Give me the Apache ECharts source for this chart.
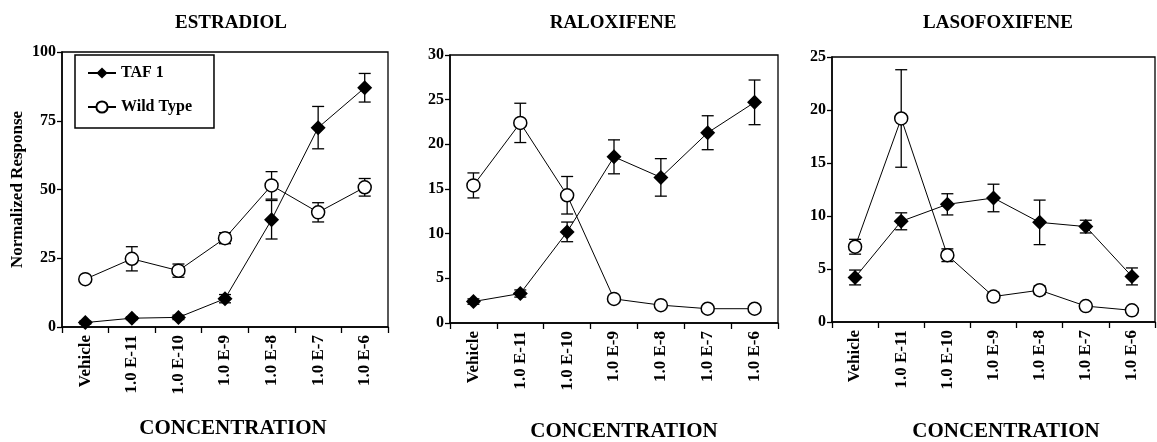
<!DOCTYPE html>
<html>
<head>
<meta charset="utf-8">
<script src="https://cdn.jsdelivr.net/npm/echarts@6/dist/echarts.min.js"></script>
<style>
  html, body { margin: 0; padding: 0; background: #fff; }
  #chart { width: 1157px; height: 442px; }
</style>
</head>
<body>
<div id="chart"></div>
<script>
var categories = ['Vehicle', '1.0 E-11', '1.0 E-10', '1.0 E-9', '1.0 E-8', '1.0 E-7', '1.0 E-6'];
var panelTitles = ['ESTRADIOL', 'RALOXIFENE', 'LASOFOXIFENE'];
var yMax = [100, 30, 25];
var yStep = [25, 5, 5];

// ESTRADIOL
var estradiolTaf = [1.6, 3.2, 3.5, 10.3, 39, 72.5, 87];
var estradiolTafErr = [0.5, 0.5, 0.8, 1.5, 7, 7.7, 5.2];
var estradiolWt = [17.4, 24.8, 20.5, 32.3, 51.5, 41.7, 50.8];
var estradiolWtErr = [1, 4.4, 2.4, 2, 5, 3.5, 3.2];

// RALOXIFENE
var raloxifeneTaf = [2.4, 3.3, 10.2, 18.6, 16.3, 21.3, 24.7];
var raloxifeneTafErr = [0.3, 0.4, 1.1, 1.9, 2.1, 1.9, 2.5];
var raloxifeneWt = [15.4, 22.4, 14.3, 2.7, 2.0, 1.6, 1.6];
var raloxifeneWtErr = [1.4, 2.2, 2.1, 0.3, 0.2, 0.2, 0.2];

// LASOFOXIFENE
var lasofoxifeneTaf = [4.2, 9.5, 11.1, 11.7, 9.4, 9.0, 4.3];
var lasofoxifeneTafErr = [0.7, 0.8, 1.0, 1.3, 2.1, 0.6, 0.8];
var lasofoxifeneWt = [7.1, 19.2, 6.3, 2.4, 3.0, 1.5, 1.1];
var lasofoxifeneWtErr = [0.7, 4.6, 0.6, 0.4, 0.4, 0.2, 0.1];

var FONT = "'Liberation Serif', 'Times New Roman', serif";

var grids = [
    {left: 62, top: 52, width: 326, height: 275},
    {left: 450, top: 55, width: 328, height: 268},
    {left: 832, top: 57, width: 323, height: 265}
];
var titleX = [226, 608, 993];
var xNameX = [228, 619, 1001];
var xNameY = [413, 416, 416];

var panels = [
    [estradiolTaf, estradiolTafErr, estradiolWt, estradiolWtErr],
    [raloxifeneTaf, raloxifeneTafErr, raloxifeneWt, raloxifeneWtErr],
    [lasofoxifeneTaf, lasofoxifeneTafErr, lasofoxifeneWt, lasofoxifeneWtErr]
];

function errRender(params, api) {
    var x = api.value(0), y = api.value(1), e = api.value(2);
    var hi = api.coord([x, y + e]);
    var lo = api.coord([x, y - e]);
    var w = 6;
    var st = {stroke: '#000', lineWidth: 1.3};
    return {
        type: 'group',
        children: [
            {type: 'line', shape: {x1: hi[0], y1: hi[1], x2: lo[0], y2: lo[1]}, style: st},
            {type: 'line', shape: {x1: hi[0] - w, y1: hi[1], x2: hi[0] + w, y2: hi[1]}, style: st},
            {type: 'line', shape: {x1: lo[0] - w, y1: lo[1], x2: lo[0] + w, y2: lo[1]}, style: st}
        ]
    };
}

function errData(vals, errs) {
    return vals.map(function (v, i) { return [i, v, errs[i]]; });
}

var titles = [], xAxes = [], yAxes = [], series = [];
for (var p = 0; p < 3; p++) {
    titles.push({
        text: panelTitles[p], left: titleX[p], top: 9, textAlign: 'center',
        textStyle: {fontFamily: FONT, fontWeight: 'bold', fontSize: 19, color: '#000'}
    });
    titles.push({
        text: 'CONCENTRATION', left: xNameX[p], top: xNameY[p], textAlign: 'center',
        textStyle: {fontFamily: FONT, fontWeight: 'bold', fontSize: 21, color: '#000'}
    });
    xAxes.push({
        type: 'category', gridIndex: p, data: categories, boundaryGap: true,
        axisLine: {lineStyle: {color: '#000', width: 1.5}},
        axisTick: {show: true, length: 6, lineStyle: {color: '#000', width: 1.3}},
        axisLabel: {rotate: 90, margin: 8, interval: 0, color: '#000', fontFamily: FONT, fontWeight: 'bold', fontSize: 17},
        splitLine: {show: false}
    });
    yAxes.push({
        type: 'value', gridIndex: p, min: 0, max: yMax[p], interval: yStep[p],
        name: p === 0 ? 'Normalized Response' : '',
        nameLocation: 'middle', nameGap: 36, nameRotate: 90,
        nameTextStyle: {fontFamily: FONT, fontWeight: 'bold', fontSize: 17, color: '#000'},
        axisLine: {show: true, lineStyle: {color: '#000', width: 1.5}},
        axisTick: {show: true, length: 5, lineStyle: {color: '#000', width: 1.3}},
        axisLabel: {margin: 6, color: '#000', fontFamily: FONT, fontWeight: 'bold', fontSize: 16},
        splitLine: {show: false}
    });
    var d = panels[p];
    series.push({
        type: 'custom', name: 'TAF 1 err', xAxisIndex: p, yAxisIndex: p, z: 1,
        renderItem: errRender, encode: {x: 0, y: 1}, data: errData(d[0], d[1])
    });
    series.push({
        type: 'custom', name: 'Wild Type err', xAxisIndex: p, yAxisIndex: p, z: 1,
        renderItem: errRender, encode: {x: 0, y: 1}, data: errData(d[2], d[3])
    });
    series.push({
        type: 'line', name: 'TAF 1', xAxisIndex: p, yAxisIndex: p, z: 3,
        data: d[0], symbol: 'diamond', symbolSize: [15, 15],
        lineStyle: {color: '#000', width: 1},
        itemStyle: {color: '#000', borderColor: '#000', borderWidth: 0}
    });
    series.push({
        type: 'line', name: 'Wild Type', xAxisIndex: p, yAxisIndex: p, z: 3,
        data: d[2], symbol: 'circle', symbolSize: 13,
        lineStyle: {color: '#000', width: 1},
        itemStyle: {color: '#fff', borderColor: '#000', borderWidth: 1.5}
    });
}

var myChart = echarts.init(document.getElementById('chart'));
var option = {
    animation: false,
    backgroundColor: '#fff',
    title: titles,
    legend: {
        data: ['TAF 1', 'Wild Type'],
        orient: 'vertical', left: 75, top: 55,
        padding: [10, 22, 13, 12], itemGap: 18,
        itemWidth: 28, itemHeight: 14,
        borderColor: '#000', borderWidth: 1.5,
        selectedMode: false,
        textStyle: {fontFamily: FONT, fontWeight: 'bold', fontSize: 16, color: '#000'}
    },
    grid: grids.map(function (g) {
        return {left: g.left, top: g.top, width: g.width, height: g.height,
                show: true, borderColor: '#000', borderWidth: 1.3, backgroundColor: 'transparent'};
    }),
    xAxis: xAxes,
    yAxis: yAxes,
    series: series
};
myChart.setOption(option);
</script>
</body>
</html>
